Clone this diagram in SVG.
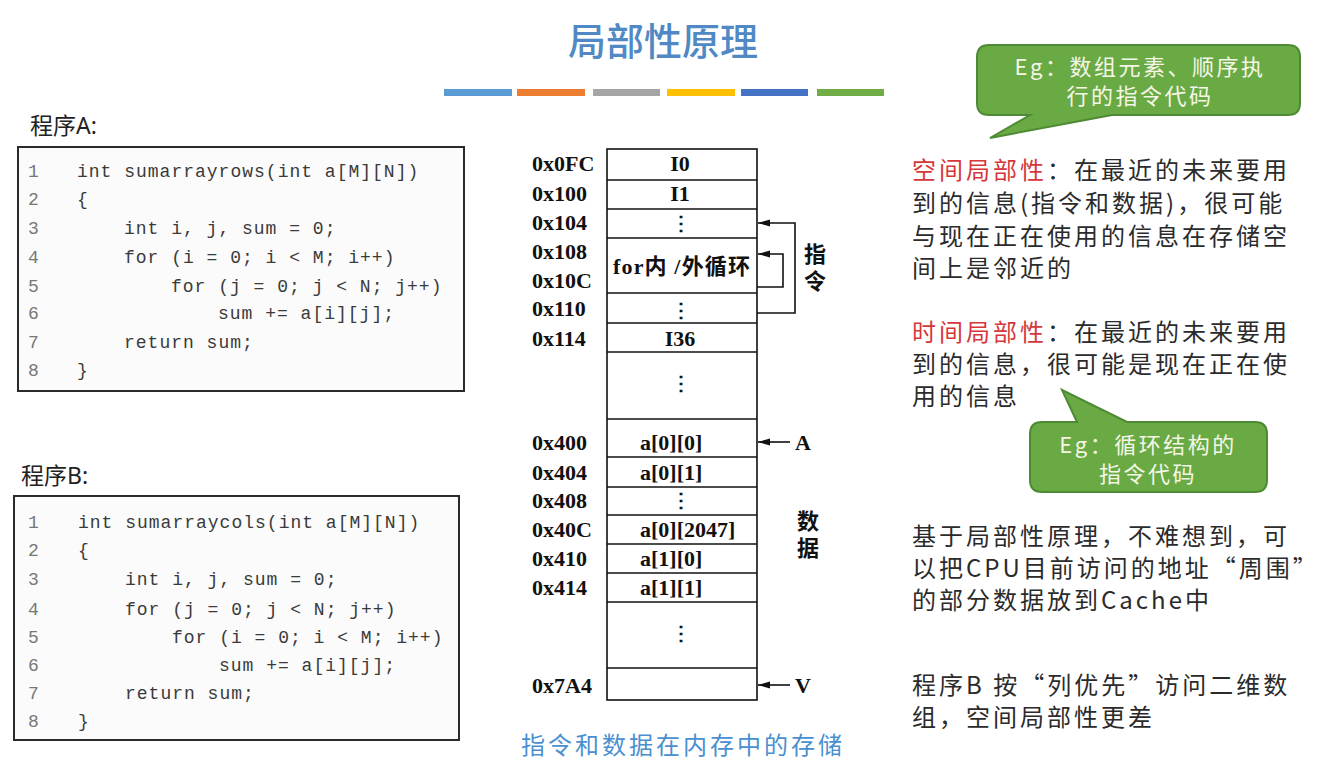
<svg xmlns="http://www.w3.org/2000/svg" width="1325" height="773" viewBox="0 0 1325 773">
<style>
.title{font-family:"Noto Sans CJK SC","Noto Sans",sans-serif;font-size:38px;fill:#5189c4;font-weight:500;text-anchor:middle}
.lbl{font-family:"Noto Sans","Noto Sans CJK SC",sans-serif;font-size:23px;fill:#222}
.code{font-family:"Liberation Mono",monospace;font-size:18px;letter-spacing:1px;fill:#3a3a3a}
.ln{font-family:"Liberation Mono",monospace;font-size:18px;fill:#777}
.box{fill:#fbfbfb;stroke:#2a2a2a;stroke-width:2}
.addr{font-family:"Liberation Serif","Noto Sans CJK SC",serif;font-size:22px;font-weight:bold;fill:#111}
.cell{fill:#fff;stroke:#111;stroke-width:1.6}
.ct{font-family:"Liberation Serif","Noto Sans CJK SC",serif;font-size:22px;font-weight:bold;fill:#111}
.ctm{font-family:"Liberation Serif","Noto Sans CJK SC",serif;font-size:22px;font-weight:bold;fill:#111;text-anchor:middle}
.dots{font-family:"DejaVu Serif",serif;font-size:20px;font-weight:bold;fill:#111;text-anchor:middle}
.side{font-family:"Liberation Serif",serif;font-size:22px;font-weight:bold;fill:#111;text-anchor:middle}
.vert{font-family:"Noto Sans CJK SC",sans-serif;font-size:22px;font-weight:bold;fill:#111;text-anchor:middle;writing-mode:vertical-rl;letter-spacing:5px}
.conn{fill:none;stroke:#111;stroke-width:1.6}
.cap{font-family:"Noto Sans CJK SC",sans-serif;font-size:24px;letter-spacing:3px;fill:#4a8fd0;text-anchor:middle}
.body{font-family:"Noto Sans CJK SC",sans-serif;font-size:24px;letter-spacing:3px;fill:#2b2b2b}
.red{fill:#d6373b}
.bub{fill:#6aaa44;stroke:#4e8a33;stroke-width:2}
.bt{font-family:"Noto Sans CJK SC",sans-serif;font-size:22px;fill:#f4f6e6;text-anchor:middle;letter-spacing:2.5px}
</style>
<defs>
<marker id="ah" viewBox="0 0 12 8" refX="12" refY="4" markerWidth="12" markerHeight="8" markerUnits="userSpaceOnUse" orient="auto">
<path d="M0,0.5 L12,4 L0,7.5 Z" fill="#111"/>
</marker>
</defs>
<rect width="1325" height="773" fill="#ffffff"/>

<g id="title">
<text class="title" x="663" y="55">局部性原理</text>
<rect x="444" y="89" width="68" height="7" fill="#5b9bd5"/>
<rect x="517" y="89" width="68" height="7" fill="#ed7d31"/>
<rect x="593" y="89" width="67" height="7" fill="#a5a5a5"/>
<rect x="667" y="89" width="68" height="7" fill="#ffc000"/>
<rect x="741" y="89" width="67" height="7" fill="#4472c4"/>
<rect x="817" y="89" width="67" height="7" fill="#70ad47"/>
</g>

<g id="programA">
<text class="lbl" x="30" y="134">程序A:</text>
<rect class="box" x="18" y="147" width="446" height="244"/>
<text class="ln" x="28" y="177">1</text>
<text class="ln" x="28" y="205">2</text>
<text class="ln" x="28" y="234">3</text>
<text class="ln" x="28" y="263">4</text>
<text class="ln" x="28" y="292">5</text>
<text class="ln" x="28" y="319">6</text>
<text class="ln" x="28" y="348">7</text>
<text class="ln" x="28" y="376">8</text>
<text class="code" x="77" y="177">int sumarrayrows(int a[M][N])</text>
<text class="code" x="77" y="205">{</text>
<text class="code" x="124" y="234">int i, j, sum = 0;</text>
<text class="code" x="124" y="263">for (i = 0; i &lt; M; i++)</text>
<text class="code" x="171" y="292">for (j = 0; j &lt; N; j++)</text>
<text class="code" x="218" y="319">sum += a[i][j];</text>
<text class="code" x="124" y="348">return sum;</text>
<text class="code" x="77" y="376">}</text>
</g>

<g id="programB">
<text class="lbl" x="21" y="484">程序B:</text>
<rect class="box" x="14" y="496" width="445" height="244"/>
<text class="ln" x="28" y="528">1</text>
<text class="ln" x="28" y="556">2</text>
<text class="ln" x="28" y="585">3</text>
<text class="ln" x="28" y="615">4</text>
<text class="ln" x="28" y="643">5</text>
<text class="ln" x="28" y="671">6</text>
<text class="ln" x="28" y="699">7</text>
<text class="ln" x="28" y="727">8</text>
<text class="code" x="78" y="528">int sumarraycols(int a[M][N])</text>
<text class="code" x="78" y="556">{</text>
<text class="code" x="125" y="585">int i, j, sum = 0;</text>
<text class="code" x="125" y="615">for (j = 0; j &lt; N; j++)</text>
<text class="code" x="172" y="643">for (i = 0; i &lt; M; i++)</text>
<text class="code" x="219" y="671">sum += a[i][j];</text>
<text class="code" x="125" y="699">return sum;</text>
<text class="code" x="78" y="727">}</text>
</g>

<g id="memory">
<rect class="cell" x="607" y="149" width="150" height="551"/>
<line class="cell" x1="607" y1="180" x2="757" y2="180"/>
<line class="cell" x1="607" y1="209" x2="757" y2="209"/>
<line class="cell" x1="607" y1="238" x2="757" y2="238"/>
<line class="cell" x1="607" y1="293" x2="757" y2="293"/>
<line class="cell" x1="607" y1="323" x2="757" y2="323"/>
<line class="cell" x1="607" y1="352" x2="757" y2="352"/>
<line class="cell" x1="607" y1="419" x2="757" y2="419"/>
<line class="cell" x1="607" y1="457" x2="757" y2="457"/>
<line class="cell" x1="607" y1="487" x2="757" y2="487"/>
<line class="cell" x1="607" y1="515" x2="757" y2="515"/>
<line class="cell" x1="607" y1="544" x2="757" y2="544"/>
<line class="cell" x1="607" y1="573" x2="757" y2="573"/>
<line class="cell" x1="607" y1="602" x2="757" y2="602"/>
<line class="cell" x1="607" y1="668" x2="757" y2="668"/>
<text class="addr" x="532" y="171">0x0FC</text>
<text class="addr" x="532" y="201">0x100</text>
<text class="addr" x="532" y="230">0x104</text>
<text class="addr" x="532" y="259">0x108</text>
<text class="addr" x="532" y="288">0x10C</text>
<text class="addr" x="532" y="316">0x110</text>
<text class="addr" x="532" y="346">0x114</text>
<text class="addr" x="532" y="450">0x400</text>
<text class="addr" x="532" y="480">0x404</text>
<text class="addr" x="532" y="508">0x408</text>
<text class="addr" x="532" y="537">0x40C</text>
<text class="addr" x="532" y="566">0x410</text>
<text class="addr" x="532" y="595">0x414</text>
<text class="addr" x="532" y="693">0x7A4</text>
<text class="ctm" x="680" y="171">I0</text>
<text class="ctm" x="680" y="201">I1</text>
<text class="dots" x="681" y="230">⋮</text>
<text class="ct" x="613" y="274" textLength="137" lengthAdjust="spacing">for内 /外循环</text>
<text class="dots" x="681" y="317">⋮</text>
<text class="ctm" x="680" y="346">I36</text>
<text class="dots" x="681" y="390">⋮</text>
<text class="ct" x="640" y="450">a[0][0]</text>
<text class="ct" x="640" y="480">a[0][1]</text>
<text class="dots" x="681" y="507">⋮</text>
<text class="ct" x="640" y="537">a[0][2047]</text>
<text class="ct" x="640" y="566">a[1][0]</text>
<text class="ct" x="640" y="595">a[1][1]</text>
<text class="dots" x="681" y="640">⋮</text>
<text class="vert" x="815" y="270">指令</text>
<text class="vert" x="808" y="537">数据</text>
<text class="side" x="803" y="450">A</text>
<text class="side" x="803" y="693">V</text>
<text class="cap" x="683" y="754">指令和数据在内存中的存储</text>
</g>

<g id="connectors">
<path class="conn" d="M757,313 H795 V223 H758" marker-end="url(#ah)"/>
<path class="conn" d="M757,287 H783 V254 H758" marker-end="url(#ah)"/>
<path class="conn" d="M790,442 H758" marker-end="url(#ah)"/>
<path class="conn" d="M790,685 H758" marker-end="url(#ah)"/>
</g>

<g id="callout1">
<path class="bub" d="M989,45 H1288 Q1300,45 1300,57 V103 Q1300,115 1288,115 H1112 L990,138 L1030,115 H989 Q977,115 977,103 V57 Q977,45 989,45 Z"/>
<text class="bt"><tspan x="1140" y="75">Eg：数组元素、顺序执</tspan><tspan x="1140" y="104">行的指令代码</tspan></text>
</g>

<g id="spatial">
<text class="body"><tspan x="912" y="179"><tspan class="red">空间局部性</tspan>：在最近的未来要用</tspan><tspan x="912" y="212">到的信息(指令和数据)，很可能</tspan><tspan x="912" y="245">与现在正在使用的信息在存储空</tspan><tspan x="912" y="277">间上是邻近的</tspan></text>
</g>

<g id="temporal">
<text class="body"><tspan x="912" y="341"><tspan class="red">时间局部性</tspan>：在最近的未来要用</tspan><tspan x="912" y="373">到的信息，很可能是现在正在使</tspan><tspan x="912" y="405">用的信息</tspan></text>
</g>

<g id="callout2">
<path class="bub" d="M1042,422 H1077 L1062,390 L1127,422 H1255 Q1267,422 1267,434 V480 Q1267,492 1255,492 H1042 Q1030,492 1030,480 V434 Q1030,422 1042,422 Z"/>
<text class="bt"><tspan x="1148" y="453">Eg：循环结构的</tspan><tspan x="1148" y="482">指令代码</tspan></text>
</g>

<g id="cacheNote">
<text class="body"><tspan x="912" y="545">基于局部性原理，不难想到，可</tspan><tspan x="912" y="577">以把CPU目前访问的地址“周围”</tspan><tspan x="912" y="609">的部分数据放到Cache中</tspan></text>
</g>

<g id="progBNote">
<text class="body"><tspan x="912" y="694">程序B 按“列优先”访问二维数</tspan><tspan x="912" y="726">组，空间局部性更差</tspan></text>
</g>
</svg>
